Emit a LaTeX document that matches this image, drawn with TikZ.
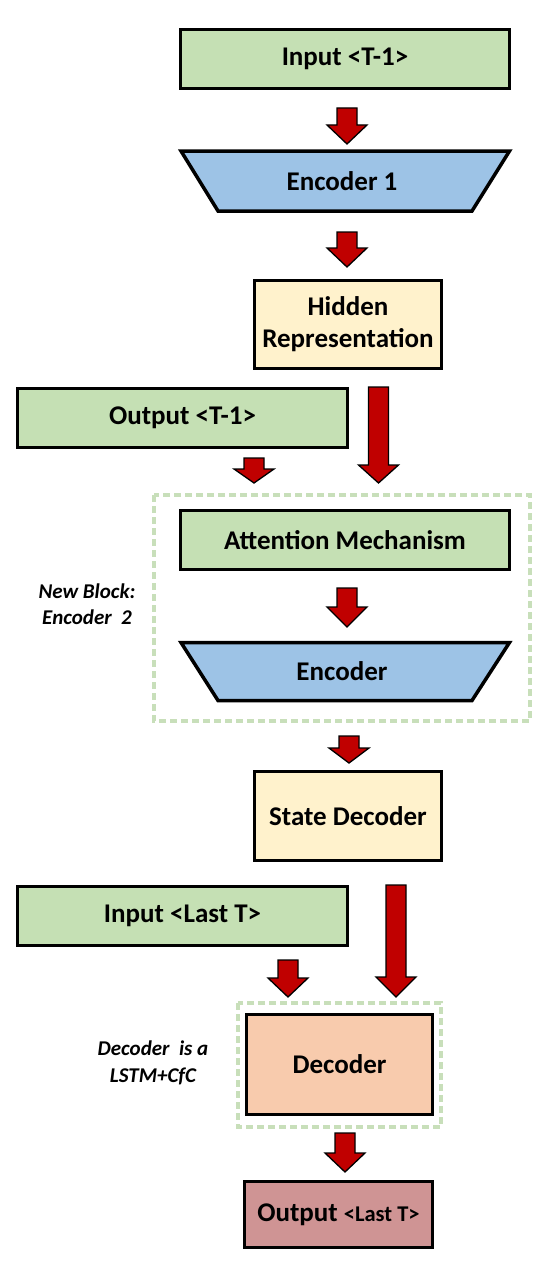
\documentclass[tikz,border=0pt]{standalone}
\usepackage{fontspec}
\setmainfont{Carlito}
\definecolor{ingreen}{HTML}{C5E0B4}
\definecolor{encblue}{HTML}{9DC3E6}
\definecolor{hidyel}{HTML}{FFF2CC}
\definecolor{decpeach}{HTML}{F8CBAD}
\definecolor{outrose}{HTML}{CF9494}
\definecolor{arrred}{HTML}{C00000}
\definecolor{grpgreen}{HTML}{C8DFBA}
\newcommand\FatArrow[4]{\draw[farrow] ({#1-10},#2) -- ({#1+10},#2) -- ({#1+10},#3) -- ({#1+20},#3) -- (#1,#4) -- ({#1-20},#3) -- ({#1-10},#3) -- cycle;}
\begin{document}
\begin{tikzpicture}[x=1pt,y=-1pt,
  box/.style={draw=black, line width=3.5pt, inner sep=0pt, align=center,
    font=\bfseries\fontsize{27}{32}\selectfont},
  trap/.style={draw=black, line width=3.5pt, fill=encblue, line join=miter},
  lbl/.style={inner sep=0pt, align=center, font=\bfseries\fontsize{27}{32}\selectfont},
  farrow/.style={fill=arrred, draw=black, line width=1.3pt, line join=miter},
  grp/.style={draw=grpgreen, line width=4pt, dash pattern=on 7pt off 4pt},
  note/.style={inner sep=0pt, align=center, font=\bfseries\itshape\fontsize{21}{26.5}\selectfont}]
\useasboundingbox (0,0) rectangle (557,1279);

% groups
\draw[grp] (154,495) rectangle (530,721);
\draw[grp] (238,1003) rectangle (441,1127);

% boxes
\node[box, fill=ingreen, minimum width=329pt, minimum height=59pt] (in1) at (345,59) {Input <T-1>};
\draw[trap] (181,151) -- (509.5,151) -- (472,211) -- (218,211) -- cycle;
\node[lbl] (enc1) at (342,181) {Encoder 1};
\node[box, fill=hidyel, minimum width=187pt, minimum height=88pt] (hid) at (348,324.5) {Hidden\\Representation};
\node[box, fill=ingreen, minimum width=330pt, minimum height=59pt] (out1) at (182.5,418) {Output <T-1>};
\node[box, fill=ingreen, minimum width=329pt, minimum height=59pt] (att) at (345,540) {Attention Mechanism};
\draw[trap] (181,642.5) -- (509.5,642.5) -- (472,700.5) -- (218,700.5) -- cycle;
\node[lbl] (enc2) at (342,671.5) {Encoder};
\node[box, fill=hidyel, minimum width=187pt, minimum height=89pt] (sd) at (348,816) {State Decoder};
\node[box, fill=ingreen, minimum width=330pt, minimum height=59pt] (in2) at (182.5,916) {Input <Last T>};
\node[box, fill=decpeach, minimum width=186pt, minimum height=100pt] (dec) at (339.5,1064.5) {Decoder};
\node[box, fill=outrose, minimum width=188pt, minimum height=66pt] (out2) at (338.5,1214.5) {Output {\fontsize{22.5}{26}\selectfont <Last T>}};

% notes
\node[note] (n1) at (87,604) {New Block:\\Encoder\ \ 2};
\node[note] (n2) at (153,1063) {Decoder\ \ is a\\LSTM+CfC};

% arrows
\FatArrow{347}{108}{125}{144}
\FatArrow{347}{232}{248}{267}
\FatArrow{378.5}{387}{465}{483}
\FatArrow{254}{458}{469}{483}
\FatArrow{347}{588}{607}{627}
\FatArrow{349}{736}{748}{763}
\FatArrow{396}{885}{977}{997}
\FatArrow{288}{960}{978}{997}
\FatArrow{345}{1133}{1153}{1172}
\end{tikzpicture}
\end{document}
